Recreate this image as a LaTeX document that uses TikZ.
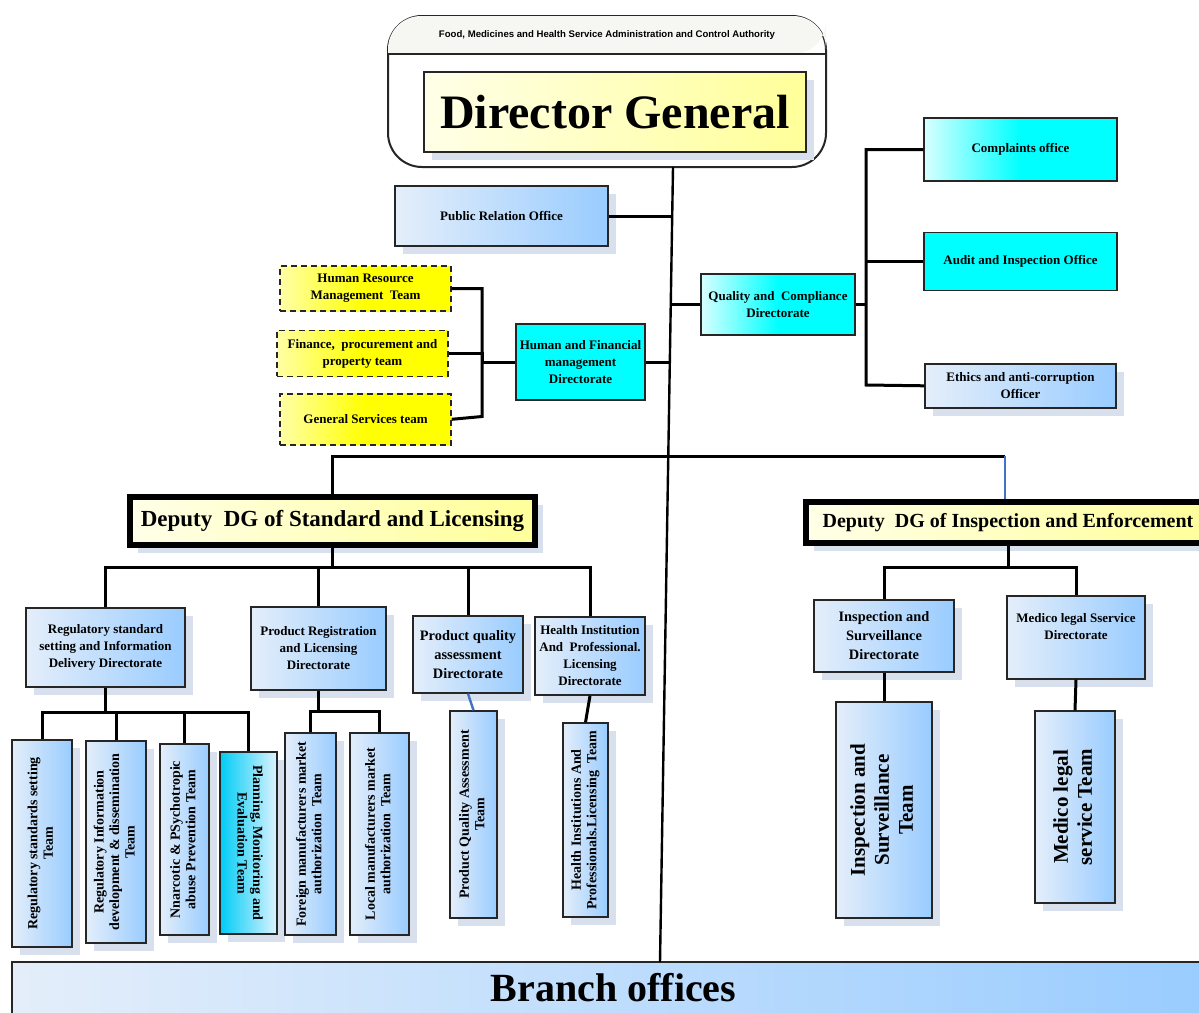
\documentclass[tikz,border=0pt]{standalone}
\usepackage{fontspec}
\setmainfont{Liberation Serif}
\newfontfamily\hdrfont{Liberation Sans}
\usepackage{graphicx}
\usepackage{tikz}
\usetikzlibrary{positioning}
\usetikzlibrary{calc}
\definecolor{bxblue}{HTML}{99CCFF}
\definecolor{bxpale}{HTML}{E4EEFA}
\definecolor{shdw}{HTML}{D8E0EE}
\definecolor{dgyel}{HTML}{FFFF99}
\definecolor{dgpale}{HTML}{FFFFE8}
\definecolor{hryel}{HTML}{FFFF00}
\definecolor{cyfill}{HTML}{00FFFF}
\definecolor{cypale}{HTML}{D8FFFF}
\definecolor{pmcyan}{HTML}{00CCF5}
\definecolor{pmpale}{HTML}{DDF3FF}
\definecolor{hdrgray}{HTML}{F6F6F2}
\definecolor{linkblue}{HTML}{4472C4}
\newcommand{\upText}[1]{\rotatebox{90}{\begin{tabular}{@{}c@{}}#1\end{tabular}}}
\newcommand{\downText}[1]{\rotatebox{-90}{\begin{tabular}{@{}c@{}}#1\end{tabular}}}
\tikzset{orgbox/.style={draw=black!85, line width=0.7pt, align=center, inner sep=1pt, font=\bfseries\fontsize{6.5}{8.5}\selectfont}}
\tikzset{shd/.style={preaction={fill=shdw, transform canvas={xshift=4pt, yshift=-4pt}}}}
\tikzset{bluebox/.style={orgbox, shd, left color=bxpale, right color=bxblue}}
\tikzset{cyanbox/.style={orgbox, left color=cypale, right color=cyfill, middle color=cyfill}}
\tikzset{cyanflat/.style={orgbox, fill=cyfill}}
\tikzset{hrbox/.style={orgbox, densely dashed, left color=hryel!35, right color=hryel, middle color=hryel}}
\tikzset{teambox/.style={orgbox, shd, left color=bxpale, right color=bxblue, font=\bfseries\fontsize{7}{7.8}\selectfont}}
\tikzset{planbox/.style={orgbox, shd, left color=pmcyan, right color=pmpale, font=\bfseries\fontsize{7}{7.8}\selectfont}}
\tikzset{deputy/.style={orgbox, shd, line width=3pt, draw=black, left color=dgpale, right color=dgyel}}
\tikzset{conn/.style={line width=1.5pt, black}}
\tikzset{sz/.style 2 args={minimum width=#1*0.5pt, minimum height=#2*0.5pt}}

\begin{document}
\begin{tikzpicture}[x=0.5pt,y=-0.5pt]
\useasboundingbox (0,0) rectangle (1199,1012);
% head office
\node[draw=black!85, line width=1pt, rounded corners=17pt, fill=white, sz={438}{151}] (hdr) at (607,91.5) {};
\fill[hdrgray, rounded corners=16.5pt] ($(hdr.north west)+(1,1)$) -- ($(hdr.north east)+(-1,1)$) -- ($(hdr.north east)+(-1,39)$) [sharp corners] -- ($(hdr.north west)+(1,39)$) [rounded corners=16.5pt] -- cycle;
\draw[line width=0.8pt, black!85] ($(hdr.north west)+(0,39)$) -- ($(hdr.north east)+(0,39)$);
\node[font=\hdrfont\bfseries\fontsize{4.8}{6}\selectfont] (hdrtxt) at (607,35) {Food, Medicines and Health Service Administration and Control Authority};
\node[orgbox, shd, left color=dgpale, right color=dgyel, sz={382}{80}, font=\bfseries\fontsize{24}{28}\selectfont] (dg) at (615,112) {Director General};
\coordinate (tr1) at (673,167);
\coordinate (tr2) at (660,962);

\node[bluebox, sz={213}{60}] (pro) at (501.5,216) {Public Relation Office};

% human and financial
\node[hrbox, sz={171}{45}] (hrm) at (365.5,288.5) {Human Resource\\Management\ \ Team};
\node[hrbox, sz={171}{46}, below=9pt of hrm, xshift=-1.5pt] (fin) {Finance,\ \ procurement and\\property team};
\node[hrbox, sz={171}{51}, below=8pt of fin, xshift=1.5pt] (gst) {General Services team};
\node[cyanflat, sz={129}{76}] (hfd) at (580.5,362) {Human and Financial\\management\\Directorate};
\coordinate (hfbot) at (482,416.5);

% quality and compliance
\node[cyanbox, sz={154}{61}] (qcd) at (778,304.5) {Quality and\ \ Compliance\\Directorate};
\node[cyanbox, sz={193}{63}] (cmp) at (1020.5,149.5) {Complaints office};
\node[cyanflat, sz={193}{58}, below=25pt of cmp] (aud) {Audit and Inspection Office};
\node[bluebox, sz={191}{44}, below=36pt of aud] (eth) {Ethics and anti-corruption\\Officer};
\coordinate (qbot) at (866,385);

% deputies
\node[deputy, sz={405}{48}, font=\bfseries\fontsize{11.5}{13}\selectfont] (ddsl) at (332.5,521) {Deputy\ \ DG of Standard and Licensing};
\node[deputy, sz={404}{41}, font=\bfseries\fontsize{10}{12}\selectfont] (ddie) at (1008,522.5) {Deputy\ \ DG of Inspection and Enforcement};
\coordinate (ddbus) at (1005,456);

% standard and licensing
\node[bluebox, sz={159}{79}] (rsd) at (105.5,647.5) {Regulatory standard\\setting and Information\\Delivery Directorate};
\node[bluebox, sz={135}{83}] (prl) at (318.5,648.5) {Product Registration\\and Licensing\\Directorate};
\node[bluebox, sz={110}{77}, font=\bfseries\fontsize{7.2}{9.5}\selectfont] (pqa) at (468,654.5) {Product quality\\assessment\\Directorate};
\node[bluebox, sz={110}{78}] (hip) at (590,656) {Health Institution\\And\ \ Professional.\\Licensing\\Directorate};
\coordinate (slbus) at (0,567);
\coordinate (rbus) at (0,712);
\coordinate (pbus) at (0,711);

\node[teambox, sz={60}{207}] (t1) at (42,843.5) {\upText{Regulatory standards setting\\Team}};
\node[teambox, sz={60}{202}] (t2) at (116,842) {\upText{Regulatory Information\\development \& dissemination\\Team}};
\node[teambox, sz={49}{191}] (t3) at (184.5,839.5) {\upText{Nnarcotic \& PSychotropic\\abuse Prevention Team}};
\node[planbox, sz={57}{182}] (t4) at (248.5,843) {\downText{Planning, Monitoring and\\Evaluation Team}};
\node[teambox, sz={51}{202}] (t5) at (310.5,834) {\upText{Foreign manufacturers market\\authorization\ \ Team}};
\node[teambox, sz={59}{202}] (t6) at (379.5,834) {\upText{Local manufacturers market\\authorization\ \ Team}};
\node[teambox, sz={47}{207}] (t7) at (473.5,814.5) {\upText{Product Quality Assessment\\Team}};
\node[teambox, sz={45}{194}] (t8) at (585.5,820) {\upText{Health Institutions And\\Professionals.Licensing\ \ Team}};

% inspection and enforcement
\node[bluebox, sz={140}{72}, font=\bfseries\fontsize{7.2}{9.5}\selectfont] (isd) at (884,636) {Inspection and\\Surveillance\\Directorate};
\node[bluebox, sz={138}{83}] (mld) at (1076,637.5) {Medico legal Sservice\\Directorate\\\strut};
\node[teambox, sz={96}{216}, font=\bfseries\fontsize{10.5}{12}\selectfont] (ist) at (884,810) {\upText{Inspection and\\Surveillance\\Team}};
\node[teambox, sz={80}{192}, font=\bfseries\fontsize{10.5}{12}\selectfont] (mlt) at (1075,807) {\upText{Medico legal\\service Team}};
\coordinate (ibus) at (0,567);

\node[draw=black!85, line width=0.8pt, left color=bxpale, right color=bxblue, sz={1203}{52}, font=\bfseries\fontsize{20}{24}\selectfont] (bro) at (613.5,988) {Branch offices};

% trunk and links
\coordinate (jpr) at (672,216);
\coordinate (jqc) at (671,304.5);
\coordinate (jhf) at (670,362);
\draw[line width=1.2pt] (tr1) -- (tr2);
\draw[conn] (pro.east) -- (jpr);
\draw[conn] (jqc) -- (qcd.west);
\draw[conn] (hfd.east) -- (jhf);
\draw[conn] (hrm.east) -| (hfbot) -- (gst.east);
\draw[conn] (fin.east) -- (fin.east -| hfbot) |- (hfd.west);
\draw[conn] (cmp.west) -| (qbot) -- (eth.west);
\draw[conn] (aud.west) -- (aud.west -| qbot);
\draw[conn] (qcd.east) -- (qcd.east -| qbot);
\draw[conn] (ddsl.north) |- (ddbus);
\draw[line width=1pt, linkblue] (ddbus) -- (ddbus |- ddie.north);

\draw[conn] (ddsl.south) -- (ddsl.south |- slbus);
\draw[conn] (rsd.north) |- (hip.north |- slbus) -- (hip.north);
\draw[conn] (prl.north) -- (prl.north |- slbus);
\draw[conn] (pqa.north) -- (pqa.north |- slbus);
\draw[conn] (rsd.south) -- (rsd.south |- rbus);
\draw[conn] (t1.north) |- (t4.north |- rbus) -- (t4.north);
\draw[conn] (t2.north) -- (t2.north |- rbus);
\draw[conn] (t3.north) -- (t3.north |- rbus);
\draw[conn] (prl.south) -- (prl.south |- pbus);
\draw[conn] (t5.north) |- (t6.north |- pbus) -- (t6.north);
\draw[line width=1.2pt, linkblue] (pqa.south) -- (t7.north);
\draw[conn] (hip.south) -- (t8.north);

\draw[conn] (ddie.south) -- (ddie.south |- ibus);
\draw[conn] (isd.north) |- (mld.north |- ibus) -- (mld.north);
\draw[conn] (isd.south) -- (ist.north);
\draw[conn] (mld.south) -- (mlt.north);
\end{tikzpicture}
\end{document}
